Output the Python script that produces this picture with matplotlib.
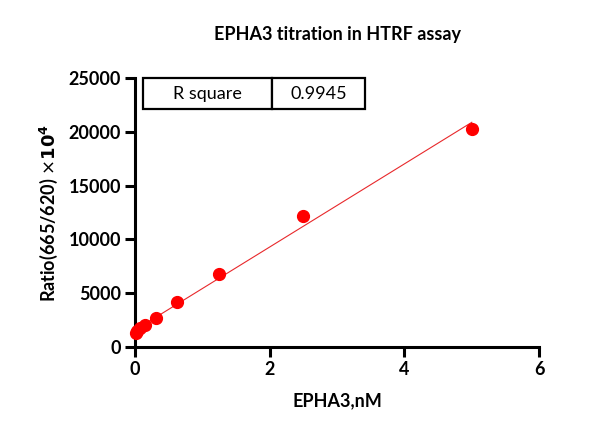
import numpy as np
import matplotlib.pyplot as plt

conc = [5, 2.5, 1.25, 0.625, 0.3125, 0.156, 0.078, 0.039, 0.0195]
ratio = [20300, 12200, 6800, 4150, 2680, 2030, 1720, 1480, 1260]
r_square = '0.9945'

plt.rcParams['font.family'] = ['Lato', 'DejaVu Sans']


def main():
    fig = plt.figure(figsize=(6.1, 4.44), dpi=100)
    ax = fig.add_axes([0.221, 0.2185, 0.663, 0.6055])

    # linear fit through the points
    k, b = np.polyfit(conc, ratio, 1)
    xs = np.array([0, max(conc)])
    ax.plot(xs, k * xs + b, color='#e8282b', linewidth=0.8, zorder=2)
    ax.plot(conc, ratio, 'o', color='#ff0000', markersize=8.5, zorder=3,
            clip_on=False)

    ax.set_xlim(0, 6)
    ax.set_ylim(0, 25000)
    ax.set_xticks([0, 2, 4, 6])
    ax.set_yticks(range(0, 25001, 5000))
    for s in ['top', 'right']:
        ax.spines[s].set_visible(False)
    for s in ['left', 'bottom']:
        ax.spines[s].set_linewidth(2.2)
    ax.tick_params(width=2.2, length=7, labelsize=13, pad=3)
    for lab in ax.get_xticklabels() + ax.get_yticklabels():
        lab.set_fontweight('bold')

    ax.set_xlabel('EPHA3,nM', fontsize=13, fontweight='bold', labelpad=10)
    ax.set_ylabel(r'Ratio(665/620) $\times\mathbf{10^4}$', fontsize=13,
                  fontweight='bold', labelpad=6)
    fig.text(0.553, 0.923, 'EPHA3 titration in HTRF assay', ha='center',
             va='center', fontsize=13, fontweight='bold')

    tbl = ax.table(cellText=[['R square', r_square]],
                   bbox=[0.02, 0.885, 0.55, 0.115], cellLoc='center')
    tbl.auto_set_font_size(False)
    for (r, c), cell in tbl.get_celld().items():
        cell.set_linewidth(1.6)
        cell.get_text().set_fontsize(13)
        cell.set_width(0.32 if c == 0 else 0.23)

    plt.savefig('out.png', dpi=100)


if __name__ == '__main__':
    main()
